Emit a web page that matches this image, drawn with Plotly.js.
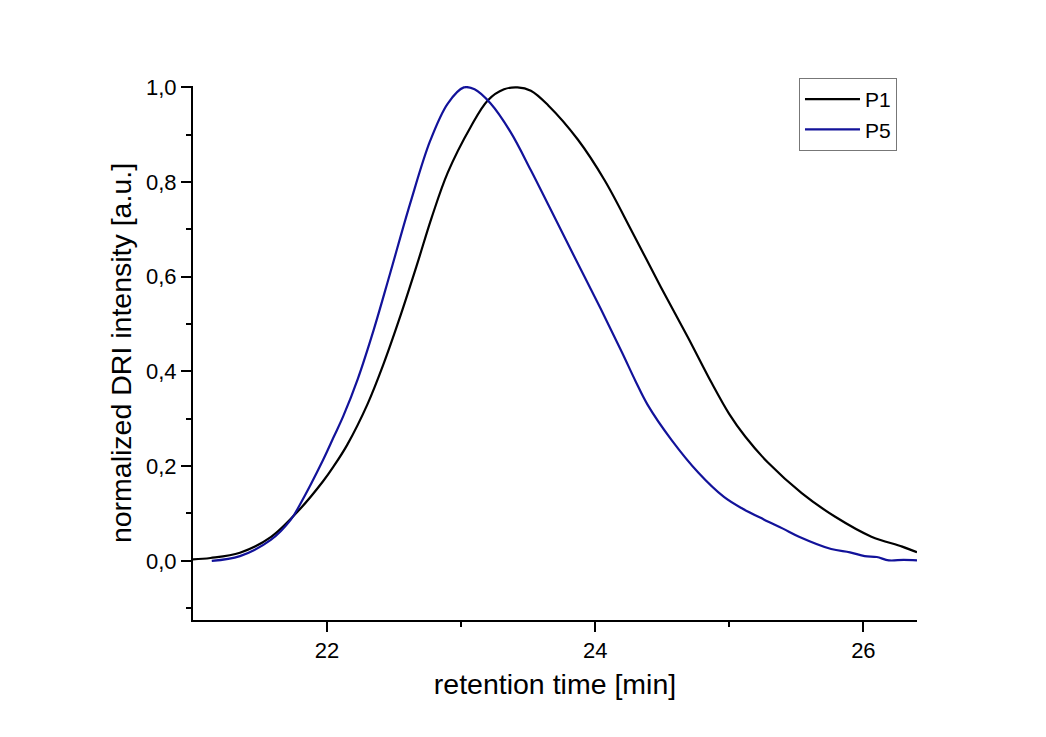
<!DOCTYPE html>
<html>
<head>
<meta charset="utf-8">
<script src="https://cdn.plot.ly/plotly-3.0.1.min.js"></script>
<style>html,body{margin:0;padding:0;background:#fff;}#chart{width:1046px;height:737px;}</style>
</head>
<body>
<div id="chart"></div>
<script>
// P1 (black)
const p1Time = [21.00, 21.13, 21.35, 21.58, 21.80, 21.97, 22.05, 22.15, 22.30, 22.42, 22.55, 22.67, 22.78, 22.90, 23.07, 23.20, 23.32, 23.42, 23.52, 23.65, 23.87, 24.07, 24.27, 24.49, 24.69, 24.87, 25.00, 25.12, 25.29, 25.54, 25.79, 26.06, 26.29, 26.40];
const p1Int  = [0.003, 0.006, 0.017, 0.050, 0.110, 0.168, 0.200, 0.245, 0.330, 0.415, 0.520, 0.625, 0.725, 0.820, 0.916, 0.973, 0.996, 1.000, 0.993, 0.962, 0.890, 0.804, 0.698, 0.578, 0.473, 0.375, 0.310, 0.262, 0.207, 0.143, 0.093, 0.051, 0.030, 0.018];
// P5 (blue)
const p5Time = [21.14, 21.35, 21.58, 21.73, 21.80, 21.97, 22.05, 22.12, 22.23, 22.35, 22.47, 22.62, 22.77, 22.90, 23.02, 23.10, 23.22, 23.37, 23.52, 23.65, 23.84, 24.04, 24.20, 24.30, 24.39, 24.57, 24.77, 24.96, 25.10, 25.26, 25.40, 25.52, 25.76, 25.90, 26.01, 26.10, 26.19, 26.30, 26.40];
const p5Int  = [0.000, 0.010, 0.044, 0.087, 0.120, 0.213, 0.262, 0.305, 0.385, 0.490, 0.607, 0.755, 0.888, 0.966, 1.000, 0.996, 0.966, 0.905, 0.825, 0.752, 0.645, 0.533, 0.440, 0.380, 0.330, 0.255, 0.186, 0.135, 0.110, 0.087, 0.068, 0.051, 0.025, 0.018, 0.010, 0.008, 0.001, 0.002, 0.001];

const font = 'Liberation Sans, Arial, sans-serif';

const traces = [
  {x: p1Time, y: p1Int, name: 'P1', type: 'scatter', mode: 'lines', line: {color: '#000000', width: 2.2, shape: 'spline', smoothing: 1}},
  {x: p5Time, y: p5Int, name: 'P5', type: 'scatter', mode: 'lines', line: {color: '#12129a', width: 2.2, shape: 'spline', smoothing: 1}}
];

const layout = {
  width: 1046, height: 737,
  paper_bgcolor: '#ffffff', plot_bgcolor: '#ffffff',
  separators: ',.',
  margin: {l: 193, r: 129, t: 86, b: 117},
  font: {family: font, color: '#000', size: 22},
  showlegend: true,
  legend: {x: 0.837, y: 1.015, xanchor: 'left', yanchor: 'top', bgcolor: '#ffffff', bordercolor: '#777', borderwidth: 1, itemwidth: 55, font: {family: font, size: 21, color: '#000'}, tracegroupgap: 0},
  xaxis: {
    range: [21, 26.4], showgrid: false, zeroline: false,
    showline: true, linecolor: '#000', linewidth: 2,
    ticks: 'outside', ticklen: 10, tickwidth: 2, tickcolor: '#000',
    tickvals: [22, 24, 26], ticktext: ['22', '24', '26'],
    minor: {tickvals: [23, 25], ticks: 'outside', ticklen: 5, tickwidth: 2, tickcolor: '#000', showgrid: false},
    tickfont: {family: font, size: 22},
    title: {text: 'retention time [min]', font: {family: font, size: 28.5}, standoff: 12}
  },
  yaxis: {
    range: [-0.125, 1.003], showgrid: false, zeroline: false,
    showline: true, linecolor: '#000', linewidth: 2,
    ticks: 'outside', ticklen: 10, tickwidth: 2, tickcolor: '#000',
    tick0: 0, dtick: 0.2, tickformat: '.1f',
    minor: {tick0: 0.1, dtick: 0.2, ticks: 'outside', ticklen: 5, tickwidth: 2, tickcolor: '#000', showgrid: false},
    tickfont: {family: font, size: 22},
    title: {text: 'normalized DRI intensity [a.u.]', font: {family: font, size: 28.5}, standoff: 6}
  }
};

Plotly.newPlot('chart', traces, layout, {displayModeBar: false, staticPlot: true});
</script>
</body>
</html>
